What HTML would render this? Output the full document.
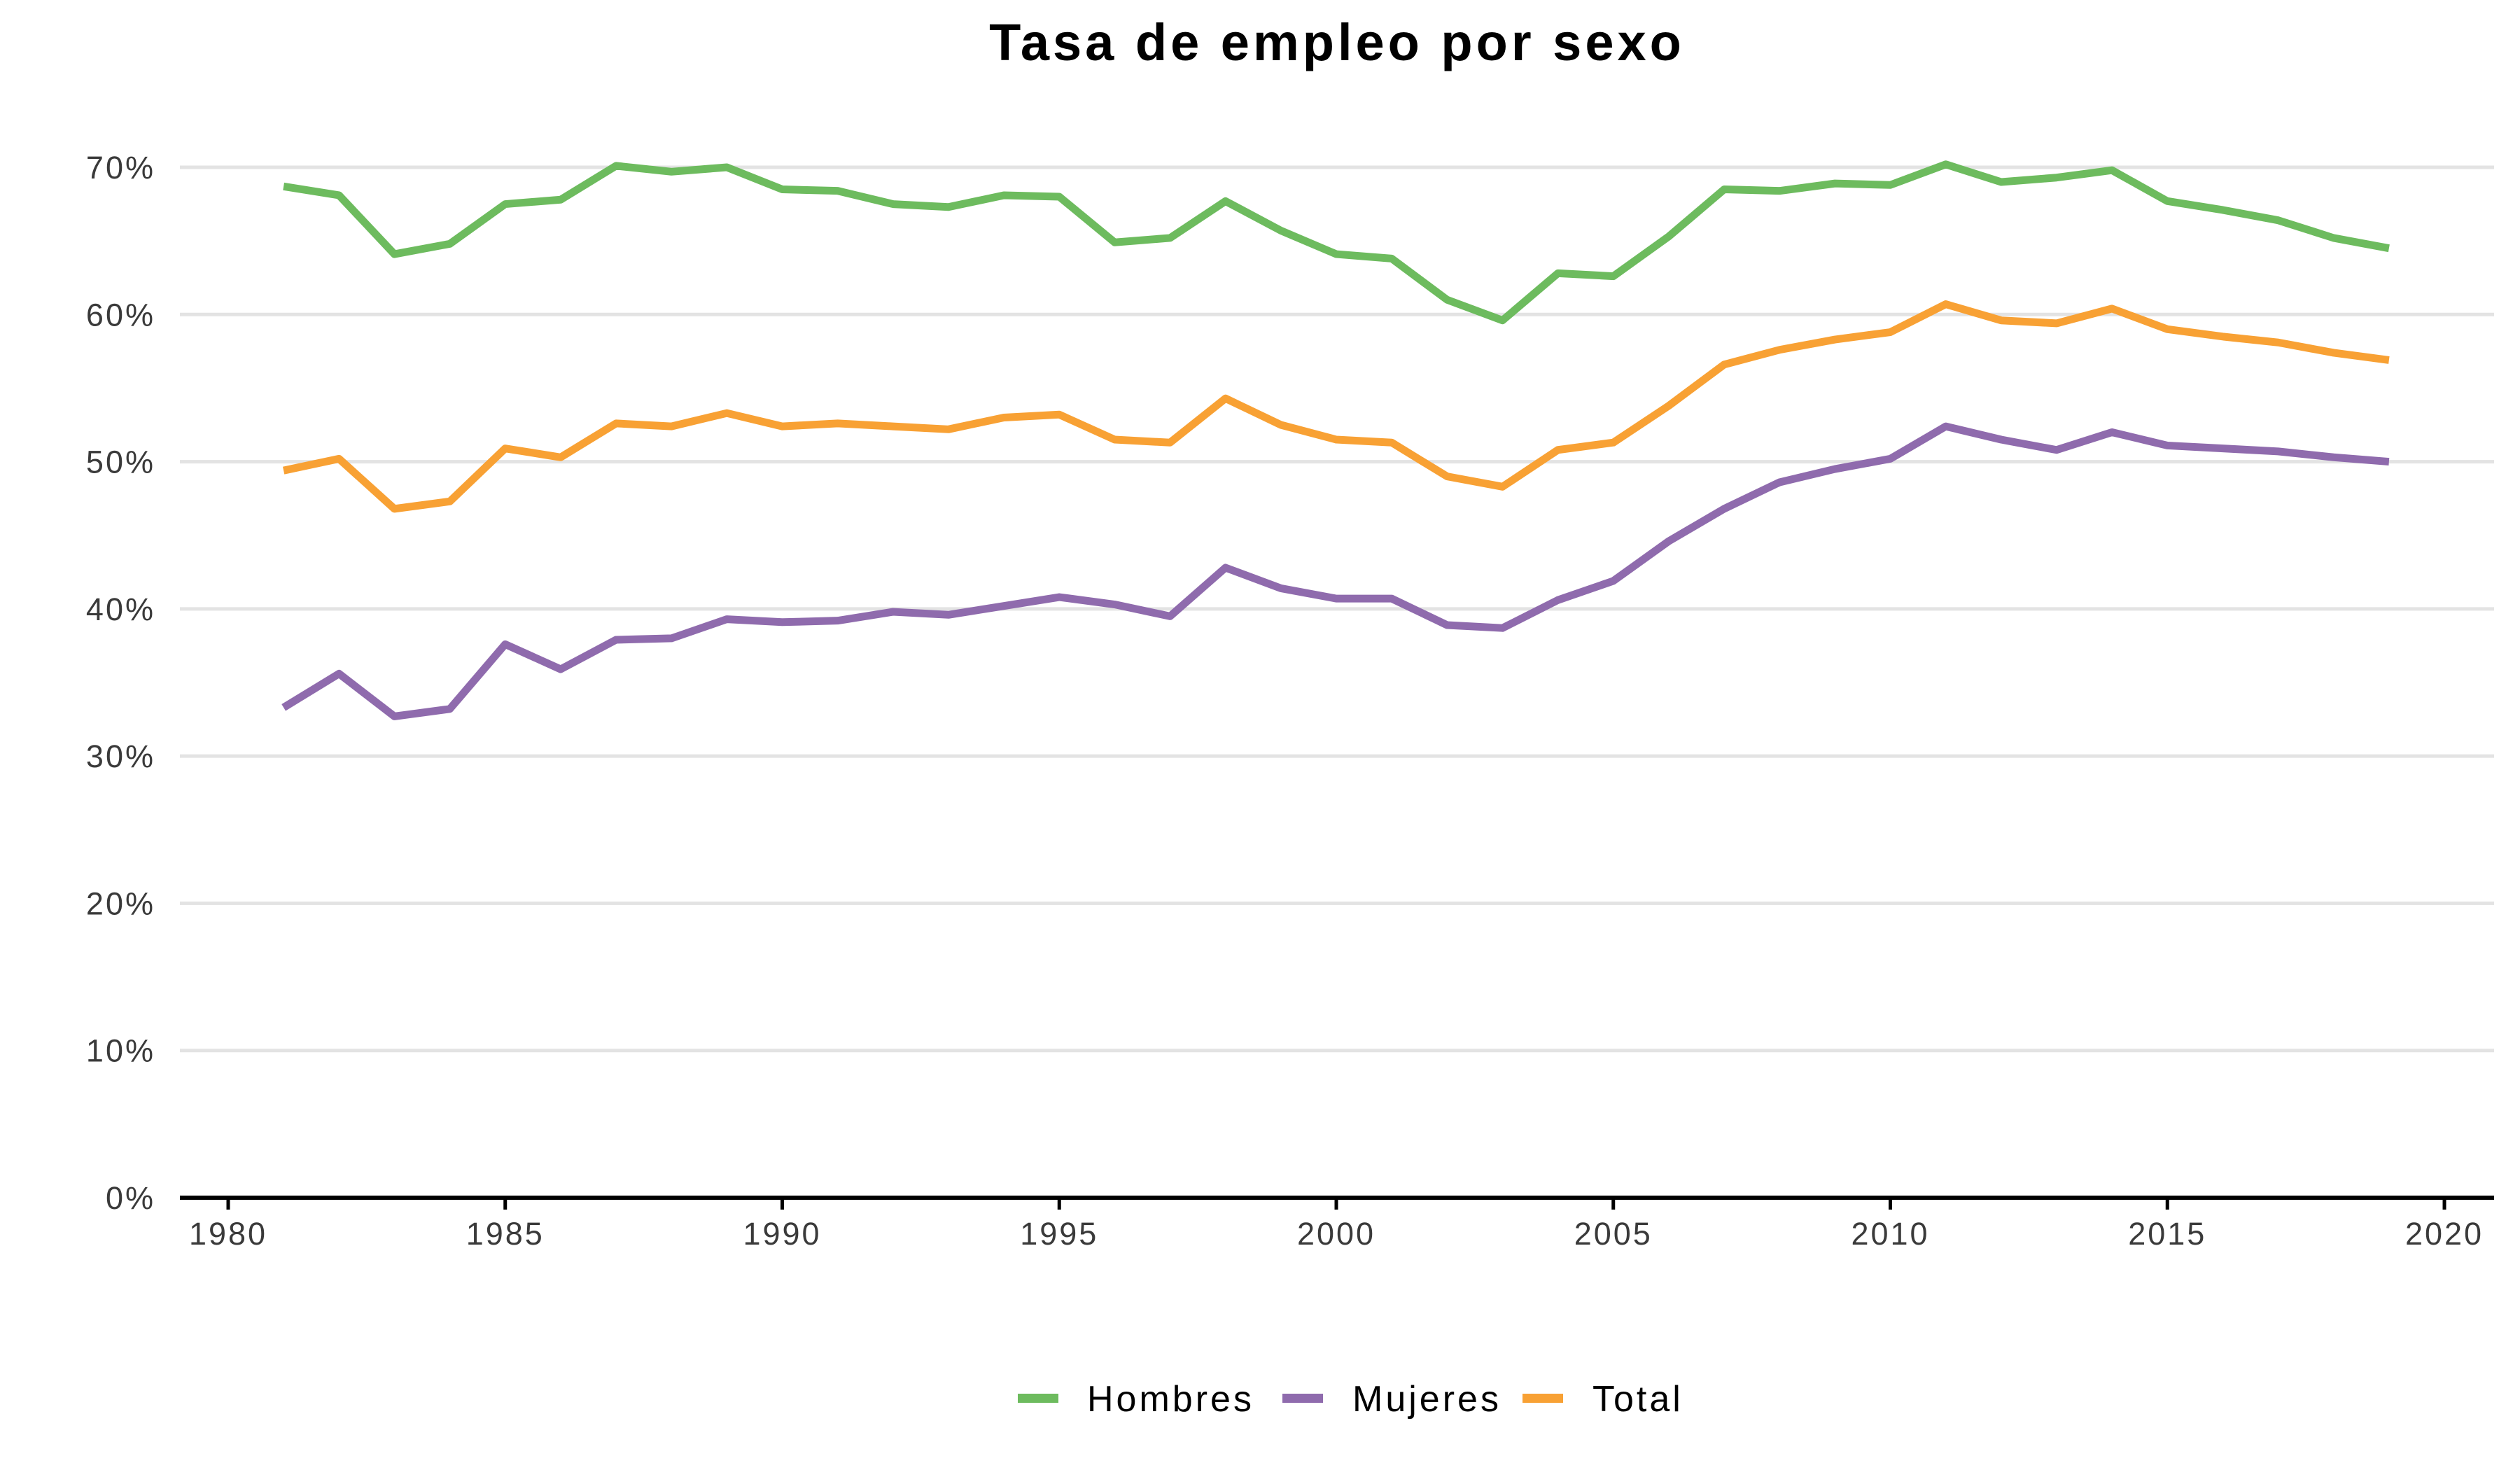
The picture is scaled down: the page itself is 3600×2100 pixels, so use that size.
<!DOCTYPE html>
<html><head><meta charset="utf-8"><style>
body{margin:0;background:#fff}
svg{display:block;font-family:"Liberation Sans",sans-serif}
</style></head><body>
<svg id="c" width="3600" height="2100" viewBox="0 0 3600 2100" xmlns="http://www.w3.org/2000/svg">
<text x="1910" y="86" text-anchor="middle" font-size="74" font-weight="bold" letter-spacing="5" fill="#000">Tasa de empleo por sexo</text>
<g id="grid"></g><g id="axes"></g><g id="series"></g>
<g id="legend">
<rect x="1454" y="1991" width="58" height="13" fill="#6dbb5e"/>
<text x="1553" y="2016" font-size="52" letter-spacing="4" fill="#000">Hombres</text>
<rect x="1832" y="1991" width="58" height="13" fill="#8f6bad"/>
<text x="1932" y="2016" font-size="52" letter-spacing="4" fill="#000">Mujeres</text>
<rect x="2175" y="1991" width="58" height="13" fill="#f8a134"/>
<text x="2275" y="2016" font-size="52" letter-spacing="4" fill="#000">Total</text>
</g>
</svg>
<script>
const years=[1981,1982,1983,1984,1985,1986,1987,1988,1989,1990,1991,1992,1993,1994,1995,1996,1997,1998,1999,2000,2001,2002,2003,2004,2005,2006,2007,2008,2009,2010,2011,2012,2013,2014,2015,2016,2017,2018,2019];
const hombres=[68.7,68.1,64.1,64.8,67.5,67.8,70.1,69.7,70.0,68.5,68.4,67.5,67.3,68.1,68.0,64.9,65.2,67.7,65.7,64.1,63.8,61.0,59.6,62.8,62.6,65.3,68.5,68.4,68.9,68.8,70.2,69.0,69.3,69.8,67.7,67.1,66.4,65.2,64.5];
const mujeres=[33.3,35.6,32.7,33.2,37.6,35.9,37.9,38.0,39.3,39.1,39.2,39.8,39.6,40.2,40.8,40.3,39.5,42.8,41.4,40.7,40.7,38.9,38.7,40.6,41.9,44.6,46.8,48.6,49.5,50.2,52.4,51.5,50.8,52.0,51.1,50.9,50.7,50.3,50.0];
const total=[49.4,50.2,46.8,47.3,50.9,50.3,52.6,52.4,53.3,52.4,52.6,52.4,52.2,53.0,53.2,51.5,51.3,54.3,52.5,51.5,51.3,49.0,48.3,50.8,51.3,53.8,56.6,57.6,58.3,58.8,60.7,59.6,59.4,60.4,59.0,58.5,58.1,57.4,56.9];
const yTicks=[0,10,20,30,40,50,60,70];
const xTicks=[1980,1985,1990,1995,2000,2005,2010,2015,2020];
const NS="http://www.w3.org/2000/svg";
const X=v=>326+(v-1980)*(3492-326)/40;
const Y=v=>1711-v*(1711-239)/70;
function mk(t,a,p){const e=document.createElementNS(NS,t);for(const k in a)e.setAttribute(k,a[k]);p.appendChild(e);return e;}
const grid=document.getElementById('grid'),axes=document.getElementById('axes'),ser=document.getElementById('series');
yTicks.forEach(v=>{
  if(v>0){const l=mk('line',{x1:257,x2:3563,y1:Y(v),y2:Y(v),stroke:'#e3e3e3','stroke-width':5},grid);
  
  }
  const t=mk('text',{x:222,y:Y(v)+16,'text-anchor':'end','font-size':45,'letter-spacing':3,fill:'#3a3a3a'},axes);
  t.textContent=v+'%';
  
  
});
const ax=mk('line',{x1:257,x2:3563,y1:1711,y2:1711,stroke:'#000','stroke-width':6},axes);


xTicks.forEach(v=>{
  const tk=mk('line',{x1:X(v),x2:X(v),y1:1711,y2:1728,stroke:'#000','stroke-width':5},axes);
  
  
  const t=mk('text',{x:X(v),y:1778,'text-anchor':'middle','font-size':45,'letter-spacing':3,fill:'#3a3a3a'},axes);
  t.textContent=v;
  
  
});
[[hombres,'#6dbb5e','hombres'],[total,'#f8a134','total'],[mujeres,'#8f6bad','mujeres']].forEach(([d,c,n])=>{
  const p=mk('polyline',{points:d.map((v,i)=>X(years[i])+','+Y(v)).join(' '),fill:'none',stroke:c,'stroke-width':11,'stroke-linejoin':'round'},ser);
  
  
});
</script>
</body></html>
